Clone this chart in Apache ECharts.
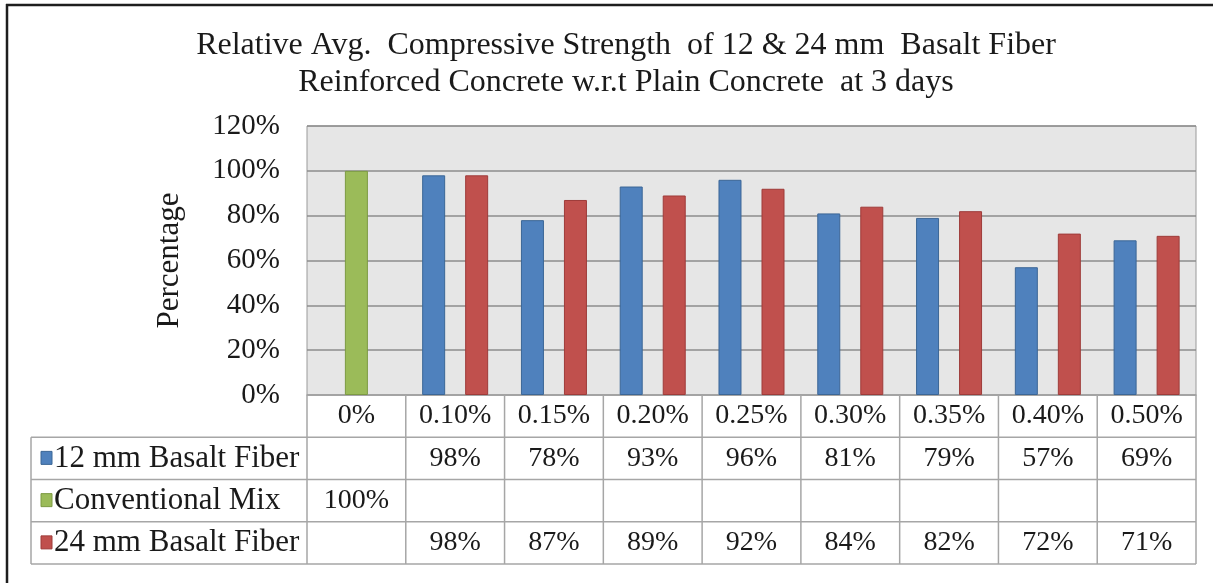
<!DOCTYPE html>
<html>
<head>
<meta charset="utf-8">
<script src="https://cdn.jsdelivr.net/npm/echarts@6/dist/echarts.min.js"></script>
<style>
  html, body { margin: 0; padding: 0; background: #ffffff; }
  #chart { width: 1213px; height: 583px; }
</style>
</head>
<body>
<div id="chart"></div>
<script>
// Fiber dosage (% of volume) along the category axis
const categories = ['0%', '0.10%', '0.15%', '0.20%', '0.25%', '0.30%', '0.35%', '0.40%', '0.50%'];
// Relative compressive strength at 3 days, % of plain concrete
const fiber12 = [null, 98, 78, 93, 96, 81, 79, 57, 69];
const conventional = [100, null, null, null, null, null, null, null, null];
const fiber24 = [null, 98, 87, 89, 92, 84, 82, 72, 71];
const seriesNames = ['12 mm Basalt Fiber', 'Conventional Mix', '24 mm Basalt Fiber'];
const yTicks = [0, 20, 40, 60, 80, 100, 120];

const FONT = "'Liberation Serif', 'Times New Roman', serif";
const colors = ['#4F81BD', '#9BBB59', '#C0504D'];
const borders = ['#3B6696', '#7C9A43', '#9E3B39'];
const seriesData = [fiber12, conventional, fiber24];

const chart = echarts.init(document.getElementById('chart'), null, { renderer: 'canvas' });

const option = {
  animation: false,
  backgroundColor: '#ffffff',
  title: {
    text: 'Relative Avg.  Compressive Strength  of 12 & 24 mm  Basalt Fiber\nReinforced Concrete w.r.t Plain Concrete  at 3 days',
    left: 626,
    textAlign: 'center',
    top: 27,
    padding: 0,
    textStyle: { fontFamily: FONT, fontSize: 32, fontWeight: 'normal', color: '#1a1a1a', lineHeight: 37 }
  },
  grid: { left: 307, top: 126, width: 889, height: 269, show: true,
          backgroundColor: '#E6E6E6', borderColor: '#9A9A9A', borderWidth: 1 },
  xAxis: {
    type: 'category',
    data: categories,
    axisLine: { lineStyle: { color: '#A6A6A6', width: 1.5 } },
    axisTick: { show: false },
    axisLabel: { fontFamily: FONT, fontSize: 28, color: '#1a1a1a', margin: 7 }
  },
  yAxis: {
    type: 'value',
    min: yTicks[0],
    max: yTicks[yTicks.length - 1],
    interval: yTicks[1] - yTicks[0],
    name: 'Percentage',
    nameLocation: 'middle',
    nameRotate: 90,
    nameGap: 122,
    nameTextStyle: { fontFamily: FONT, fontSize: 31, color: '#1a1a1a' },
    axisLine: { show: false },
    axisTick: { show: false },
    splitLine: { lineStyle: { color: '#8C8C8C', width: 1.5 } },
    axisLabel: { fontFamily: FONT, fontSize: 29, color: '#1a1a1a', margin: 27,
                 formatter: v => v + '%' }
  },
  series: seriesData.map((d, i) => ({
    name: seriesNames[i],
    type: 'bar',
    data: d,
    barWidth: 23,
    barGap: '-6.5%',
    itemStyle: { color: colors[i], borderColor: borders[i], borderWidth: 1 }
  }))
};

chart.setOption(option);

// Data table under the plot, laid out from the category axis positions
function buildTable() {
  const n = categories.length;
  const xs = categories.map((c, i) => chart.convertToPixel({ xAxisIndex: 0 }, i));
  const band = xs[1] - xs[0];
  const plotLeft = xs[0] - band / 2;
  const plotRight = xs[n - 1] + band / 2;
  const y0 = chart.convertToPixel({ yAxisIndex: 0 }, 0);
  const rowH = 42.25;
  const tableLeft = 31;
  const lineStyle = { stroke: '#A6A6A6', lineWidth: 1.5 };
  const els = [];

  // frame of the chart image
  els.push({ type: 'line', shape: { x1: 6, y1: 5, x2: 1213, y2: 5 }, style: { stroke: '#1e1e1e', lineWidth: 2.5 } });
  els.push({ type: 'line', shape: { x1: 7, y1: 4, x2: 7, y2: 583 }, style: { stroke: '#1e1e1e', lineWidth: 2.5 } });

  // horizontal rules below the header row
  for (let r = 1; r <= 4; r++) {
    const y = y0 + r * rowH;
    els.push({ type: 'line', shape: { x1: tableLeft, y1: y, x2: plotRight, y2: y }, style: lineStyle });
  }
  // vertical rules through the header and data rows
  for (let i = 0; i <= n; i++) {
    const x = plotLeft + i * band;
    els.push({ type: 'line', shape: { x1: x, y1: y0, x2: x, y2: y0 + 4 * rowH }, style: lineStyle });
  }
  els.push({ type: 'line', shape: { x1: tableLeft, y1: y0 + rowH, x2: tableLeft, y2: y0 + 4 * rowH }, style: lineStyle });

  // row headers with colour keys, then the values
  seriesNames.forEach((name, r) => {
    const cy = y0 + (r + 1.5) * rowH;
    els.push({ type: 'rect', shape: { x: 41, y: cy - 7, width: 11, height: 13 },
               style: { fill: colors[r], stroke: borders[r], lineWidth: 1 } });
    els.push({ type: 'text', x: 54, y: cy,
               style: { text: name, font: '31px ' + FONT, fill: '#1a1a1a', textAlign: 'left', textVerticalAlign: 'middle' } });
    seriesData[r].forEach((v, i) => {
      if (v === null) return;
      els.push({ type: 'text', x: xs[i], y: cy,
                 style: { text: v + '%', font: '28px ' + FONT, fill: '#1a1a1a', textAlign: 'center', textVerticalAlign: 'middle' } });
    });
  });

  chart.setOption({ graphic: { elements: els } });
}
buildTable();
</script>
</body>
</html>
